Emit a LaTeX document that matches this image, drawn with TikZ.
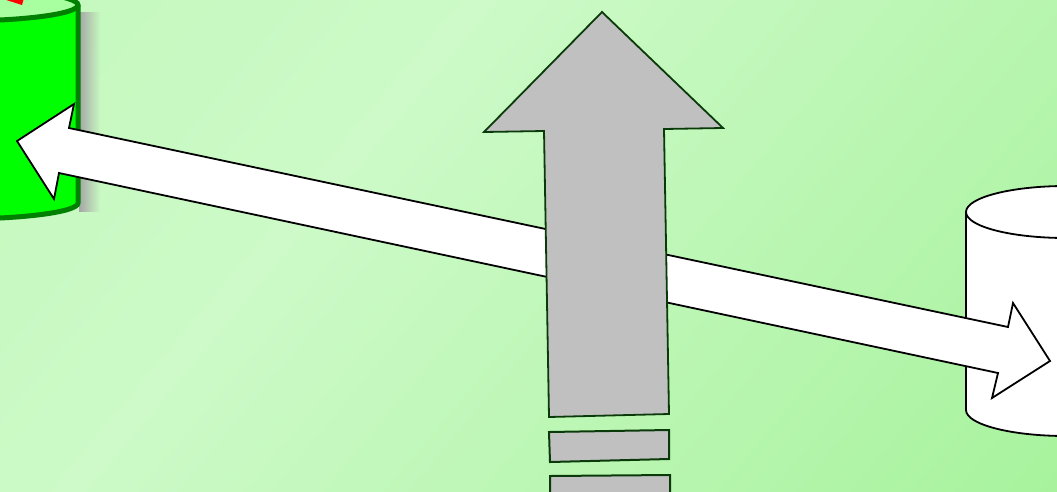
\documentclass[tikz,border=0pt]{standalone}
\usetikzlibrary{fadings}

\definecolor{bglight}{HTML}{CDFAC8}
\definecolor{bgtop}{HTML}{BDF7B5}
\definecolor{bgdark}{HTML}{9CF090}
\definecolor{cylgreen}{HTML}{00FF00}
\definecolor{cyledge}{HTML}{008000}
\definecolor{cyltop}{HTML}{A8FFA0}
\definecolor{upgray}{HTML}{C0C0C0}
\definecolor{upedge}{HTML}{0A3A0A}

\pgfdeclarehorizontalshading{bgshade}{100bp}{color(0bp)=(bgtop); color(38bp)=(bglight); color(100bp)=(bgdark)}

\tikzset{
  greencyl/.style={fill=cylgreen, draw=cyledge, line width=5pt},
  whitecyl/.style={fill=white, draw=black, line width=1.8pt},
  biarrow/.style={fill=white, draw=black, line width=1.8pt, line join=miter},
  uparrow/.style={fill=upgray, draw=upedge, line width=1.8pt, line join=miter},
  barbox/.style={fill=upgray, draw=upedge, line width=2pt}
}

\begin{document}
\begin{tikzpicture}[x=1pt, y=-1pt]
\useasboundingbox (0,0) rectangle (1057,491);
\clip (0,0) rectangle (1057,491);

% background
\shade[shading=bgshade, shading angle=-40] (0,0) rectangle (1057,491);

% green cylinder with its shadow
\fill[black!35, path fading=east] (79,12) rectangle (100,212);
\fill[cylgreen] (-162,5) rectangle (78,203);
\fill[cylgreen] (-42,203) ellipse [x radius=120, y radius=16];
\draw[greencyl, fill=none] (78,5) -- (78,203)
  arc[start angle=0, end angle=180, x radius=120, y radius=16];
\draw[greencyl, fill=cyltop] (-42,5) ellipse [x radius=120, y radius=16];
\fill[red] (0,-2) -- (24,-2) -- (22,5) -- cycle;

% white cylinder
\fill[white] (966,212) rectangle (1170,410);
\fill[white] (1066,410) ellipse [x radius=100, y radius=26];
\draw[whitecyl, fill=none] (966,212) -- (966,410)
  arc[start angle=180, end angle=0, x radius=100, y radius=26];
\draw[whitecyl] (1066,212) ellipse [x radius=100, y radius=26];

% double arrow
\coordinate (ltip) at (17,141);
\coordinate (rtip) at (1050,361);
\draw[biarrow] (ltip) -- (74,104) -- (69,128) -- (1008,327) -- (1013,303)
  -- (rtip) -- (992,398) -- (998,373) -- (59,173) -- (54,199) -- cycle;

% upward arrow
\coordinate (uptip) at (602,12);
\draw[uparrow] (uptip) -- (723,128) -- (664,129) -- (669,414) -- (549,417)
  -- (544,131) -- (484,132) -- cycle;

% bars below
\draw[barbox] (549,432) -- (669,430) -- (669,459) -- (550,462) -- cycle;
\draw[barbox] (550,476) -- (670,475) -- (670,500) -- (550,500) -- cycle;
\end{tikzpicture}
\end{document}
